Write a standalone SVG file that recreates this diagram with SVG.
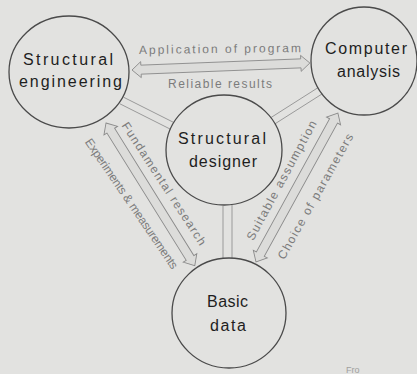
<svg xmlns="http://www.w3.org/2000/svg" width="417" height="374" viewBox="0 0 417 374">
  <style>
    .node { fill: none; stroke: #4a4a4a; stroke-width: 1.3; }
    .nlabel { font-family: "Liberation Sans", Arial, sans-serif; font-size: 16px; fill: #1e1e1e; }
    .alabel { font-family: "Liberation Sans", Arial, sans-serif; font-size: 12px; fill: #7c7c7c; }
    .arrow { fill: #dcdcda; stroke: #8a8a8a; stroke-width: 0.9; stroke-linejoin: miter; }
    .band { stroke: #9a9a9a; stroke-width: 1; fill: none; }
  </style>
  <rect width="417" height="374" fill="#e2e2e0"/>

  <g id="connectors">
    <!-- double-line bands to the central node -->
    <line class="band" x1="123.5" y1="97.2" x2="174" y2="122.6"/>
    <line class="band" x1="119.9" y1="103.8" x2="170.8" y2="129.4"/>
    <line class="band" x1="318.1" y1="87.6" x2="270.9" y2="117.6"/>
    <line class="band" x1="322.3" y1="93.8" x2="274.7" y2="124"/>
    <line class="band" x1="223" y1="206" x2="223" y2="258"/>
    <line class="band" x1="232" y1="205" x2="232" y2="258"/>

    <!-- double-headed hollow arrows -->
    <path class="arrow" transform="translate(132,70) rotate(-2.25)" d="M0,0 L9,-8 L9,-4.5 L169,-4.5 L169,-8 L178,0 L169,8 L169,4.5 L9,4.5 L9,8 Z"/>
    <path class="arrow" transform="translate(106,123) rotate(58.1)" d="M0,0 L9,-8 L9,-4.5 L159,-4.5 L159,-8 L168,0 L159,8 L159,4.5 L9,4.5 L9,8 Z"/>
    <path class="arrow" transform="translate(256,262) rotate(-61.2)" d="M0,0 L9,-8 L9,-4.5 L161,-4.5 L161,-8 L170,0 L161,8 L161,4.5 L9,4.5 L9,8 Z"/>

    <!-- connector labels -->
    <text class="alabel" font-size="12.5" transform="translate(139,54) rotate(-0.7)" textLength="162" lengthAdjust="spacing">Application of program</text>
    <text class="alabel" x="168" y="88" textLength="104" lengthAdjust="spacing">Reliable results</text>
    <text class="alabel" transform="translate(121.3,125.6) rotate(56.9)" textLength="144" lengthAdjust="spacing">Fundamental research</text>
    <text class="alabel" font-size="11.5" transform="translate(84.6,142) rotate(55.7)" textLength="155" lengthAdjust="spacing">Experiments &amp; measurements</text>
    <text class="alabel" transform="translate(253.2,241.3) rotate(-61.6)" textLength="134" lengthAdjust="spacing">Suitable assumption</text>
    <text class="alabel" transform="translate(284.2,260.3) rotate(-60.7)" textLength="142" lengthAdjust="spacing">Choice of parameters</text>
  </g>

  <g id="structural-engineering">
    <ellipse class="node" cx="69" cy="72" rx="60" ry="56"/>
    <text class="nlabel" x="23" y="65" textLength="90" lengthAdjust="spacing">Structural</text>
    <text class="nlabel" x="19" y="87" textLength="103" lengthAdjust="spacing">engineering</text>
  </g>

  <g id="computer-analysis">
    <ellipse class="node" cx="364" cy="61" rx="53" ry="54"/>
    <text class="nlabel" x="325" y="54" textLength="82" lengthAdjust="spacing">Computer</text>
    <text class="nlabel" x="337" y="77" textLength="63" lengthAdjust="spacing">analysis</text>
  </g>

  <g id="structural-designer">
    <ellipse class="node" cx="224" cy="150" rx="58" ry="55"/>
    <text class="nlabel" x="178" y="144" textLength="88" lengthAdjust="spacing">Structural</text>
    <text class="nlabel" x="189" y="167" textLength="68" lengthAdjust="spacing">designer</text>
  </g>

  <g id="basic-data">
    <ellipse class="node" cx="229" cy="313" rx="57" ry="55"/>
    <text class="nlabel" x="207" y="307" textLength="41" lengthAdjust="spacing">Basic</text>
    <text class="nlabel" x="210" y="331" textLength="36" lengthAdjust="spacing">data</text>
  </g>

  <text x="346" y="373" font-family="Liberation Sans, Arial, sans-serif" font-size="9" fill="#a0a09e">Fro</text>
</svg>
